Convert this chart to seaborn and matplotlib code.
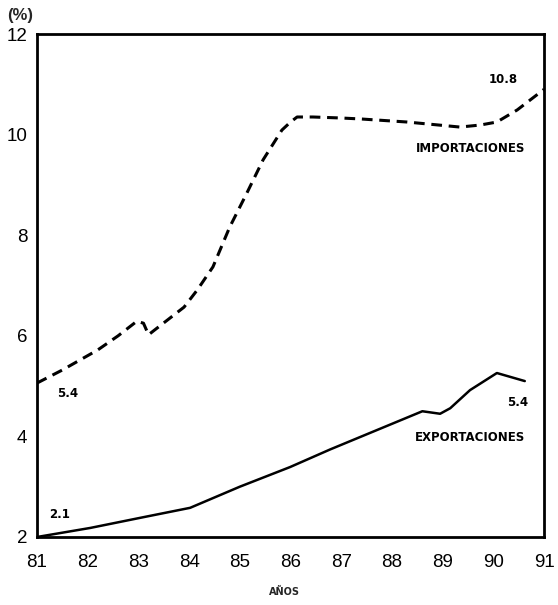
import pandas as pd
import matplotlib
matplotlib.use('Agg')
import matplotlib.pyplot as plt
import seaborn as sns

# Datos (% por año)
anios_imp = [81.0, 81.5, 82.2, 82.6, 82.97, 83.1, 83.2, 83.3, 83.9, 84.16, 84.47,
             84.8, 85.14, 85.46, 85.83, 86.0, 86.13, 86.44, 87.0, 87.4, 88.3,
             89.34, 89.74, 90.07, 90.47, 91.0]
importaciones = [5.06, 5.32, 5.72, 6.0, 6.29, 6.25, 6.02, 6.1, 6.57, 6.91, 7.37,
                 8.16, 8.84, 9.5, 10.09, 10.25, 10.35, 10.35, 10.33, 10.31, 10.25,
                 10.15, 10.19, 10.25, 10.49, 10.9]

anios_exp = [81.0, 82.05, 83.03, 84.02, 85.0, 85.99, 86.78, 87.57, 88.6, 88.95,
             89.15, 89.54, 90.07, 90.62]
exportaciones = [2.0, 2.18, 2.38, 2.58, 3.0, 3.39, 3.74, 4.07, 4.5, 4.45,
                 4.56, 4.92, 5.26, 5.1]

ticks_x = list(range(81, 92))
ticks_y = [2, 4, 6, 8, 10, 12]

df_imp = pd.DataFrame({'anio': anios_imp, 'valor': importaciones})
df_exp = pd.DataFrame({'anio': anios_exp, 'valor': exportaciones})

sns.set_style('white')
plt.rcParams['font.family'] = ['Liberation Sans', 'DejaVu Sans']

fig = plt.figure(figsize=(5.58, 6.05), dpi=100)
ax = fig.add_axes([0.0663, 0.1124, 0.9087, 0.8314])

# Importaciones (discontinua) y exportaciones (continua)
sns.lineplot(data=df_imp, x='anio', y='valor', ax=ax, color='black',
             linewidth=2.2, linestyle=(0, (3.5, 2.2)), sort=False)
sns.lineplot(data=df_exp, x='anio', y='valor', ax=ax, color='black',
             linewidth=1.8, sort=False)

ax.set_xlim(81, 91)
ax.set_ylim(2, 12)
ax.set_xticks(ticks_x)
ax.set_yticks(ticks_y)
ax.set_xticklabels([str(t) for t in ticks_x], fontsize=13.5)
ax.set_yticklabels([str(t) for t in ticks_y], fontsize=13.5)
ax.tick_params(direction='in', length=5, width=1.5, colors='black')
ax.tick_params(axis='x', pad=12)
ax.tick_params(axis='y', pad=7)
for s in ax.spines.values():
    s.set_linewidth(2)
    s.set_color('black')

ax.set_xlabel('')
ax.set_ylabel('')

# Etiquetas
negrita = dict(fontsize=8.5, fontweight='heavy', color='black', family='DejaVu Sans')
ax.text(81.6, 4.86, '5.4', ha='center', va='center', **negrita)
ax.text(81.45, 2.44, '2.1', ha='center', va='center', **negrita)
ax.text(90.2, 11.09, '10.8', ha='center', va='center', **negrita)
ax.text(90.47, 4.68, '5.4', ha='center', va='center', **negrita)
ax.text(90.63, 9.73, 'IMPORTACIONES', ha='right', va='center', **negrita)
ax.text(90.63, 3.97, 'EXPORTACIONES', ha='right', va='center', **negrita)

fig.text(0.012, 0.975, '(%)', fontsize=12, fontweight='bold', ha='left', va='center')
fig.text(0.51, 0.022, 'AÑOS', fontsize=7, fontweight='heavy', family='DejaVu Sans',
         ha='center', va='center')

fig.savefig('out.png', dpi=100)
